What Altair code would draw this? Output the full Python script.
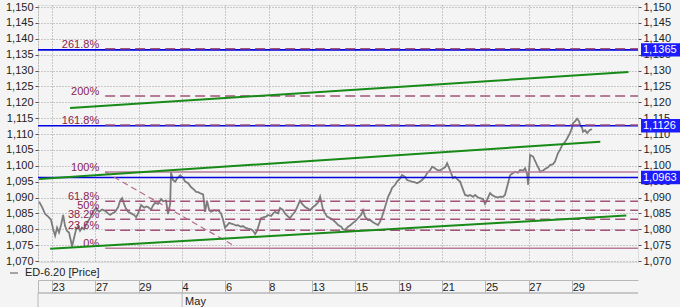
import altair as alt
import pandas as pd

# ---------------- data ----------------
price_t = [-0.60, -0.46, -0.32, -0.18, -0.05, 0.05, 0.14, 0.23, 0.32, 0.42, 0.51, 0.60, 0.69, 0.78, 0.88,
           0.92, 1.02, 1.11, 1.20, 1.29, 1.38, 1.48, 1.57, 1.66, 1.75, 1.85, 1.94, 2.03, 2.17, 2.31,
           2.45, 2.58, 2.68, 2.77, 2.91, 3.05, 3.14, 3.23, 3.32, 3.41, 3.51, 3.65, 3.78, 3.88, 3.97,
           4.11, 4.25, 4.34, 4.43, 4.57, 4.66, 4.75, 4.89, 5.03, 5.12, 5.26, 5.35, 5.45, 5.49, 5.58,
           5.68, 5.77, 5.91, 6.05, 6.14, 6.28, 6.41, 6.55, 6.65, 6.74, 6.88, 6.97, 7.06, 7.15, 7.25,
           7.34, 7.48, 7.57, 7.66, 7.80, 7.89, 7.98, 8.08, 8.17, 8.26, 8.40, 8.49, 8.58, 8.72, 8.81,
           8.91, 9.04, 9.18, 9.28, 9.37, 9.46, 9.55, 9.64, 9.78, 9.88, 9.97, 10.11, 10.20, 10.29, 10.43,
           10.52, 10.66, 10.75, 10.89, 10.98, 11.08, 11.21, 11.31, 11.44, 11.54, 11.68, 11.81, 11.91, 12.04, 12.14,
           12.28, 12.37, 12.51, 12.60, 12.69, 12.83, 12.97, 13.11, 13.20, 13.34, 13.43, 13.52, 13.66, 13.75, 13.89,
           13.98, 14.12, 14.26, 14.35, 14.44, 14.58, 14.67, 14.81, 14.91, 15.04, 15.14, 15.23, 15.37, 15.51, 15.60,
           15.69, 15.83, 15.92, 16.06, 16.15, 16.29, 16.38, 16.52, 16.61, 16.75, 16.84, 16.98, 17.07, 17.21, 17.31,
           17.44, 17.54, 17.67, 17.77, 17.90, 18.00, 18.14, 18.23, 18.37, 18.50, 18.60, 18.74, 18.83, 18.97, 19.06,
           19.20, 19.29, 19.43, 19.52, 19.66, 19.75, 19.89, 19.98, 20.07, 20.21, 20.30, 20.44, 20.58, 20.67, 20.81,
           20.90, 21.00, 21.14, 21.23, 21.37, 21.50, 21.60, 21.74, 21.83, 21.92, 21.97, 22.06, 22.20, 22.29, 22.38,
           22.47, 22.52, 22.66, 22.75, 22.89, 22.98, 23.12, 23.21, 23.35, 23.44, 23.54, 23.67, 23.77, 23.90, 24.00,
           24.04, 24.13, 24.23, 24.32, 24.37, 24.46, 24.50, 24.60, 24.69, 24.78, 24.83, 24.92]
price_v = [1.0887, 1.0870, 1.0848, 1.0840, 1.0830, 1.0800, 1.0780, 1.0805, 1.0790, 1.0815, 1.0845, 1.0810, 1.0795, 1.0790, 1.0760,
           1.0745, 1.0775, 1.0800, 1.0810, 1.0795, 1.0805, 1.0800, 1.0815, 1.0825, 1.0835, 1.0850, 1.0860, 1.0867, 1.0855, 1.0862,
           1.0858, 1.0850, 1.0845, 1.0850, 1.0855, 1.0870, 1.0890, 1.0898, 1.0880, 1.0865, 1.0855, 1.0850, 1.0845, 1.0838, 1.0850,
           1.0876, 1.0868, 1.0872, 1.0870, 1.0862, 1.0875, 1.0883, 1.0880, 1.0895, 1.0888, 1.0890, 1.0848, 1.0880, 1.0980, 1.0955,
           1.0950, 1.0960, 1.0970, 1.0962, 1.0950, 1.0945, 1.0933, 1.0925, 1.0918, 1.0917, 1.0912, 1.0910, 1.0855, 1.0890, 1.0860,
           1.0855, 1.0860, 1.0858, 1.0860, 1.0850, 1.0830, 1.0805, 1.0812, 1.0820, 1.0818, 1.0815, 1.0812, 1.0813, 1.0808, 1.0810,
           1.0805, 1.0802, 1.0800, 1.0795, 1.0785, 1.0795, 1.0815, 1.0835, 1.0838, 1.0840, 1.0845, 1.0842, 1.0850, 1.0855, 1.0850,
           1.0867, 1.0860, 1.0850, 1.0840, 1.0835, 1.0845, 1.0855, 1.0870, 1.0890, 1.0880, 1.0870, 1.0865, 1.0860, 1.0870, 1.0875,
           1.0885, 1.0903, 1.0860, 1.0850, 1.0840, 1.0835, 1.0829, 1.0820, 1.0813, 1.0808, 1.0800, 1.0798, 1.0808, 1.0812, 1.0820,
           1.0825, 1.0835, 1.0845, 1.0860, 1.0840, 1.0829, 1.0830, 1.0822, 1.0818, 1.0813, 1.0825, 1.0840, 1.0871, 1.0903, 1.0915,
           1.0930, 1.0940, 1.0950, 1.0960, 1.0971, 1.0965, 1.0955, 1.0952, 1.0950, 1.0948, 1.0945, 1.0950, 1.0955, 1.0965, 1.0977,
           1.0985, 1.0997, 1.0992, 1.0987, 1.0985, 1.0990, 1.0995, 1.1008, 1.0985, 1.0961, 1.0965, 1.0955, 1.0950, 1.0924, 1.0908,
           1.0905, 1.0908, 1.0902, 1.0908, 1.0900, 1.0898, 1.0895, 1.0880, 1.0892, 1.0914, 1.0908, 1.0903, 1.0900, 1.0903, 1.0902,
           1.0908, 1.0934, 1.0971, 1.0975, 1.0981, 1.0978, 1.0987, 1.0985, 1.0992, 1.0975, 1.0940, 1.1034, 1.1029, 1.1015, 1.1002,
           1.0990, 1.0981, 1.0985, 1.0990, 1.0995, 1.1002, 1.1005, 1.1013, 1.1040, 1.1050, 1.1065, 1.1075, 1.1086, 1.1103, 1.1120,
           1.1134, 1.1140, 1.1148, 1.1140, 1.1128, 1.1120, 1.1107, 1.1112, 1.1103, 1.1110, 1.1113, 1.1115]

series_name = "ED-6.20 [Price]"

# horizontal blue lines (and their right-axis markers)
blue_levels = [1.1365, 1.1126, 1.0963]

# Fibonacci levels
fib_labels = ["0%", "23.6%", "38.2%", "50%", "61.8%", "100%", "161.8%", "200%", "261.8%"]
fib_values = [1.0740, 1.07966, 1.08317, 1.0860, 1.08883, 1.0980, 1.11283, 1.1220, 1.13683]
fib_solid = [True, False, False, False, False, True, False, False, False]
fib_start_t = 2.45

# diagonal fib trend line
diag_t = [2.45, 8.35]
diag_v = [1.0980, 1.0750]

# green channel lines
chan_id = ["upper", "upper", "middle", "middle", "lower", "lower"]
chan_t = [0.83, 26.6, -0.6, 25.3, -0.09, 26.5]
chan_v = [1.1182, 1.1295, 1.0958, 1.1076, 1.0739, 1.0843]

# axes
x_domain = [-0.65, 27.04]
y_domain = [1.06969, 1.15063]
y_ticks = [1.070, 1.075, 1.080, 1.085, 1.090, 1.095, 1.100, 1.105, 1.110, 1.115,
           1.120, 1.125, 1.130, 1.135, 1.140, 1.145, 1.150]
x_tick_t = [0, 2, 4, 6, 8, 10, 12, 14, 16, 18, 20, 22, 24]
date_labels = ["23", "27", "29", "4", "6", "8", "13", "15", "19", "21", "25", "27", "29"]
month_t = [-0.65, 6]
month_labels = ["", "May"]

# ---------------- chart ----------------
FONT = "Liberation Sans"
W, H = 600, 257
BG = "#f4f4f4"

xscale = alt.Scale(domain=x_domain, nice=False, zero=False)
yscale = alt.Scale(domain=y_domain, nice=False, zero=False)

num_label = "replace(format(datum.value, '.3f'), '.', ',')"
date_expr = "datum.value < 0 ? '' : [" + ",".join("'%s'" % d for d in date_labels) + "][round(datum.value / 2)]"

price_df = pd.DataFrame({"t": price_t, "v": price_v})

price = alt.Chart(price_df).mark_line(color="#7c7c7c", strokeWidth=1.8).encode(
    x=alt.X("t:Q", scale=xscale, axis=alt.Axis(
        values=[x_domain[0]] + x_tick_t, labelExpr=date_expr, orient="bottom", offset=18,
        domain=True, domainColor="#b8b8b8", tickSize=13, tickColor="#b8b8b8",
        labelAlign="left", labelBaseline="middle", labelPadding=-6,
        labelFlush=False, labelOverlap=False, labelBound=False,
        labelFont=FONT, labelFontSize=11, labelColor="#222222",
        grid=True, gridDash=[1, 2], gridColor="#9c9c9c", gridOpacity=1, title=None)),
    y=alt.Y("v:Q", scale=yscale, axis=alt.Axis(
        values=y_ticks, labelExpr=num_label, orient="left", tickSize=3, tickColor="#555555",
        domain=False, labelPadding=2, labelFont=FONT, labelFontSize=11, labelColor="#222222",
        grid=True, gridDash=[1, 2], gridColor="#9c9c9c", gridOpacity=1, title=None)),
)

blue_df = pd.DataFrame({"v": blue_levels})
blue = alt.Chart(blue_df).mark_rule(color="#0000e0", strokeWidth=1.6).encode(
    y=alt.Y("v:Q", scale=yscale, axis=alt.Axis(
        values=y_ticks, labelExpr=num_label, orient="right", tickSize=3, tickColor="#555555",
        domain=False, labelPadding=2, labelFont=FONT, labelFontSize=11, labelColor="#222222",
        grid=False, title=None, zindex=0)),
    x=alt.value(0), x2=alt.value(W),
)

fib_df = pd.DataFrame({"label": fib_labels, "v": fib_values, "solid": fib_solid,
                       "t0": [fib_start_t] * len(fib_values), "t1": [x_domain[1]] * len(fib_values)})

fib_solid_l = alt.Chart(fib_df).transform_filter("datum.solid").mark_rule(
    color="#b77d98", strokeWidth=1.5).encode(
    x=alt.X("t0:Q", scale=xscale, axis=None), x2="t1:Q",
    y=alt.Y("v:Q", scale=yscale, axis=None))

fib_dash_l = alt.Chart(fib_df).transform_filter("!datum.solid").mark_rule(
    color="#a3537a", strokeWidth=1.5, strokeDash=[10, 5]).encode(
    x=alt.X("t0:Q", scale=xscale, axis=None), x2="t1:Q",
    y=alt.Y("v:Q", scale=yscale, axis=None))

fib_text = alt.Chart(fib_df).mark_text(
    align="right", baseline="bottom", dx=-6, dy=1, font=FONT, fontSize=11, color="#8b1d4e").encode(
    x=alt.X("t0:Q", scale=xscale, axis=None),
    y=alt.Y("v:Q", scale=yscale, axis=None),
    text="label:N")

diag_df = pd.DataFrame({"t": diag_t, "v": diag_v})
diag = alt.Chart(diag_df).mark_line(color="#b56a8e", strokeWidth=1.2, strokeDash=[6, 4]).encode(
    x=alt.X("t:Q", scale=xscale, axis=None),
    y=alt.Y("v:Q", scale=yscale, axis=None))

chan_df = pd.DataFrame({"id": chan_id, "t": chan_t, "v": chan_v})
chan = alt.Chart(chan_df).mark_line(color="#178a17", strokeWidth=2).encode(
    x=alt.X("t:Q", scale=xscale, axis=None),
    y=alt.Y("v:Q", scale=yscale, axis=None),
    detail="id:N")

mark_df = pd.DataFrame({"v": blue_levels,
                        "txt": [f"{v:.4f}".replace(".", ",") for v in blue_levels]})
mark_box = alt.Chart(mark_df).transform_calculate(
    lo="datum.v - 0.0021", hi="datum.v + 0.0021").mark_bar(color="#1c1cff").encode(
    y=alt.Y("lo:Q", scale=yscale, axis=None), y2="hi:Q",
    x=alt.value(W + 3), x2=alt.value(W + 42))
mark_txt = alt.Chart(mark_df).mark_text(
    align="left", baseline="middle", font=FONT, fontSize=11, color="white").encode(
    y=alt.Y("v:Q", scale=yscale, axis=None), x=alt.value(W + 5), text="txt:N")

month_df = pd.DataFrame({"t": month_t, "label": month_labels})
month_rule = alt.Chart(month_df).mark_rule(color="#b8b8b8").encode(
    x=alt.X("t:Q", scale=xscale, axis=None), y=alt.value(H + 31), y2=alt.value(H + 45))
month_text = alt.Chart(month_df).mark_text(
    align="left", baseline="middle", dx=3, font=FONT, fontSize=11, color="#222222").encode(
    x=alt.X("t:Q", scale=xscale, axis=None), y=alt.value(H + 39.5), text="label:N")
row_line = alt.Chart(month_df).mark_rule(color="#b8b8b8").encode(
    x=alt.value(0), x2=alt.value(W), y=alt.value(H + 31))

legend_df = pd.DataFrame({"name": [series_name]})
legend_dash = alt.Chart(legend_df).mark_rule(color="#555555").encode(
    x=alt.value(-28), x2=alt.value(-20), y=alt.value(H + 11))
legend_txt = alt.Chart(legend_df).mark_text(
    align="left", baseline="middle", font=FONT, fontSize=11, color="#222222").encode(
    x=alt.value(-13), y=alt.value(H + 11), text="name:N")

chart = alt.layer(
    price, blue, fib_solid_l, fib_dash_l, fib_text, diag, chan, mark_box, mark_txt,
    month_rule, month_text, row_line, legend_dash, legend_txt
).resolve_axis(x="independent", y="independent").properties(
    width=W, height=H,
    padding={"left": 38, "top": 5, "right": 42, "bottom": 45},
    autosize="none", background=BG,
).configure_view(stroke="#9a9a9a", fill=BG).configure(font=FONT)

chart.save("out.html", embed_options={"renderer": "svg", "actions": False})
